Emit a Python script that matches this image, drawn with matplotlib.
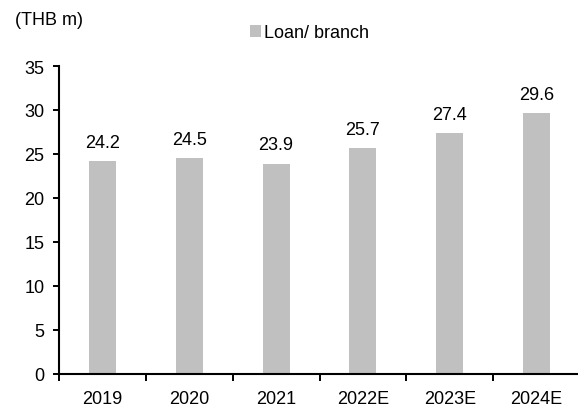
import matplotlib.pyplot as plt
import numpy as np

plt.rcParams["font.family"] = ["Liberation Sans", "DejaVu Sans"]

years = ["2019", "2020", "2021", "2022E", "2023E", "2024E"]
loan_per_branch = [24.2, 24.5, 23.9, 25.7, 27.4, 29.6]

W, H = 578, 414
fig = plt.figure(figsize=(W / 100, H / 100), dpi=100)
ax = fig.add_axes([59 / W, 1 - 374.5 / H, 521 / W, 307.5 / H])

x = np.arange(len(years))
bars = ax.bar(x, loan_per_branch, width=0.31, color="#c0c0c0", label="Loan/ branch")

# value labels above each bar
for xi, v in zip(x, loan_per_branch):
    ax.text(xi, v + 1.6, f"{v:.1f}", ha="center", va="baseline", fontsize=13)

ax.set_xlim(-0.5, len(years) - 0.5)
ax.set_ylim(0, 35)
ax.set_yticks(range(0, 36, 5))
ax.tick_params(axis="y", labelsize=13, length=4.5, width=1.4, direction="out", pad=6)

# category labels centred on bars, tick marks between categories
ax.set_xticks(x)
ax.set_xticklabels(years, fontsize=13)
ax.tick_params(axis="x", length=0, pad=12)
ax.set_xticks(np.arange(-0.5, len(years)), minor=True)
ax.tick_params(axis="x", which="minor", length=5, width=1.4, direction="out")

for side in ["top", "right"]:
    ax.spines[side].set_visible(False)
for side in ["left", "bottom"]:
    ax.spines[side].set_linewidth(1.5)

fig.text(15 / W, 1 - 20.5 / H, "(THB m)", fontsize=13, va="center", ha="left")
fig.legend(
    handles=[bars],
    loc="center left",
    bbox_to_anchor=(250 / W, 1 - 34 / H),
    frameon=False,
    fontsize=13,
    handlelength=0.6,
    handleheight=0.6,
    handletextpad=0.2,
    borderaxespad=0,
    borderpad=0,
)

fig.savefig("out.png", dpi=100)
